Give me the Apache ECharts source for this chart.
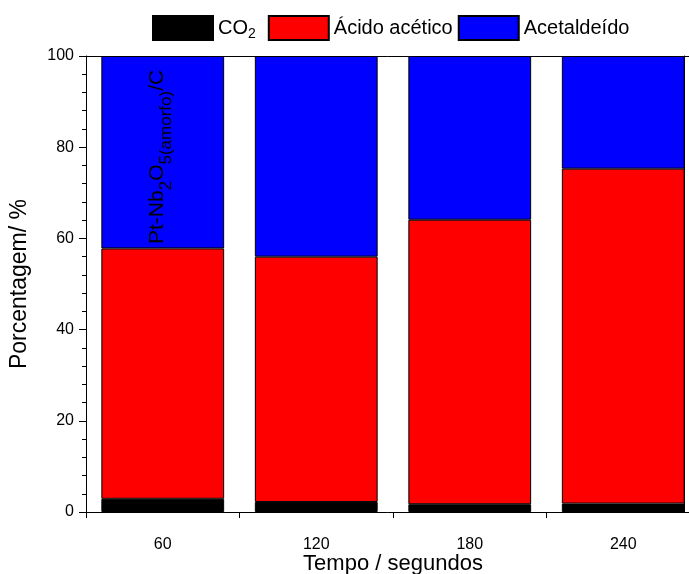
<!DOCTYPE html>
<html><head><meta charset="utf-8">
<script src="https://cdn.jsdelivr.net/npm/echarts@6/dist/echarts.min.js"></script>
<style>html,body{margin:0;padding:0;background:#fff}#c{width:689px;height:574px}</style>
</head><body><div id="c"></div>
<script>
// ---- data ----
const categories = ['60', '120', '180', '240'];
const co2 = [2.9, 2.2, 1.7, 1.85];
const acidoAcetico = [54.9, 53.8, 62.4, 73.45];
const acetaldeido = [42.2, 44.0, 35.9, 24.7];
const seriesNames = ['CO2', 'Ácido acético', 'Acetaldeído'];
const yTickValues = [0, 20, 40, 60, 80, 100];

// ---- style ----
const seriesColors = ['#000000', '#ff0000', '#0000ff'];
const FONT = '"Liberation Sans", Arial, sans-serif';

const chart = echarts.init(document.getElementById('c'), null, {renderer: 'canvas'});

const series = [co2, acidoAcetico, acetaldeido].map((vals, i) => ({
  name: seriesNames[i],
  type: 'bar',
  stack: 'total',
  barWidth: '80%',
  xAxisIndex: 0,
  yAxisIndex: 0,
  data: vals,
  itemStyle: {color: seriesColors[i], borderColor: '#000', borderWidth: 1},
  emphasis: {disabled: true}
}));

const frameLine = {show: true, onZero: false, lineStyle: {color: '#000', width: 1}};

chart.setOption({
  animation: false,
  backgroundColor: '#fff',
  grid: {left: 86, right: -11, top: 56, bottom: 62, containLabel: false, outerBoundsMode: 'none'},
  legend: {
    top: 15, left: 152, padding: 0, itemWidth: 60, itemHeight: 24, itemGap: 5,
    icon: 'rect',
    data: seriesNames,
    selectedMode: false,
    formatter: n => n === 'CO2' ? '{a|CO}{s|2}' : '{a|' + n + '}',
    textStyle: {
      fontFamily: FONT, fontSize: 20, color: '#000',
      rich: {
        a: {fontFamily: FONT, fontSize: 20, color: '#000', lineHeight: 26, verticalAlign: 'middle'},
        s: {fontFamily: FONT, fontSize: 14, color: '#000', lineHeight: 14, verticalAlign: 'bottom', padding: [0, 7, 0, 0]}
      }
    }
  },
  xAxis: [
    {
      type: 'category', data: categories, boundaryGap: true, position: 'bottom',
      name: 'Tempo / segundos', nameLocation: 'middle', nameGap: 41, nameMoveOverlap: false,
      nameTextStyle: {fontFamily: FONT, fontSize: 22, color: '#000'},
      axisLine: frameLine,
      axisTick: {show: true, alignWithLabel: false, length: 6, lineStyle: {color: '#000'}},
      axisLabel: {fontFamily: FONT, fontSize: 16, color: '#000', margin: 25, interval: 0},
      splitLine: {show: false}
    },
    {
      type: 'category', data: categories, position: 'top',
      axisLine: frameLine, axisTick: {show: false}, axisLabel: {show: false}, splitLine: {show: false}
    }
  ],
  yAxis: [
    {
      type: 'value', min: 0, max: 100, interval: 20,
      name: 'Porcentagem/ %', nameLocation: 'middle', nameGap: 55, nameRotate: 90, nameMoveOverlap: false,
      nameTextStyle: {fontFamily: FONT, fontSize: 23, color: '#000'},
      axisLine: frameLine,
      axisTick: {show: true, inside: false, length: 7, lineStyle: {color: '#000'}},
      minorTick: {show: true, splitNumber: 5, length: 4, lineStyle: {color: '#000'}},
      axisLabel: {fontFamily: FONT, fontSize: 16, color: '#000', margin: 12,
        formatter: v => yTickValues.includes(v) ? String(v) : ''},
      splitLine: {show: false}
    },
    {
      type: 'value', min: 0, max: 100, position: 'right', offset: -16,
      axisLine: frameLine, axisTick: {show: false}, axisLabel: {show: false}, splitLine: {show: false}
    }
  ],
  graphic: [{
    type: 'text', x: 175, y: 244, rotation: Math.PI / 2, z: 100,
    style: {
      text: '{a|Pt-Nb}{s|2}{a|O}{s|5(amorfo)}{a|/C}',
      x: 0, y: 0, align: 'left', verticalAlign: 'bottom', fill: '#000',
      rich: {
        a: {fontFamily: FONT, fontSize: 21, fill: '#000', lineHeight: 36, verticalAlign: 'middle'},
        s: {fontFamily: FONT, fontSize: 17, fill: '#000', lineHeight: 17, verticalAlign: 'bottom'}
      }
    }
  }],
  series: series
});
</script></body></html>
